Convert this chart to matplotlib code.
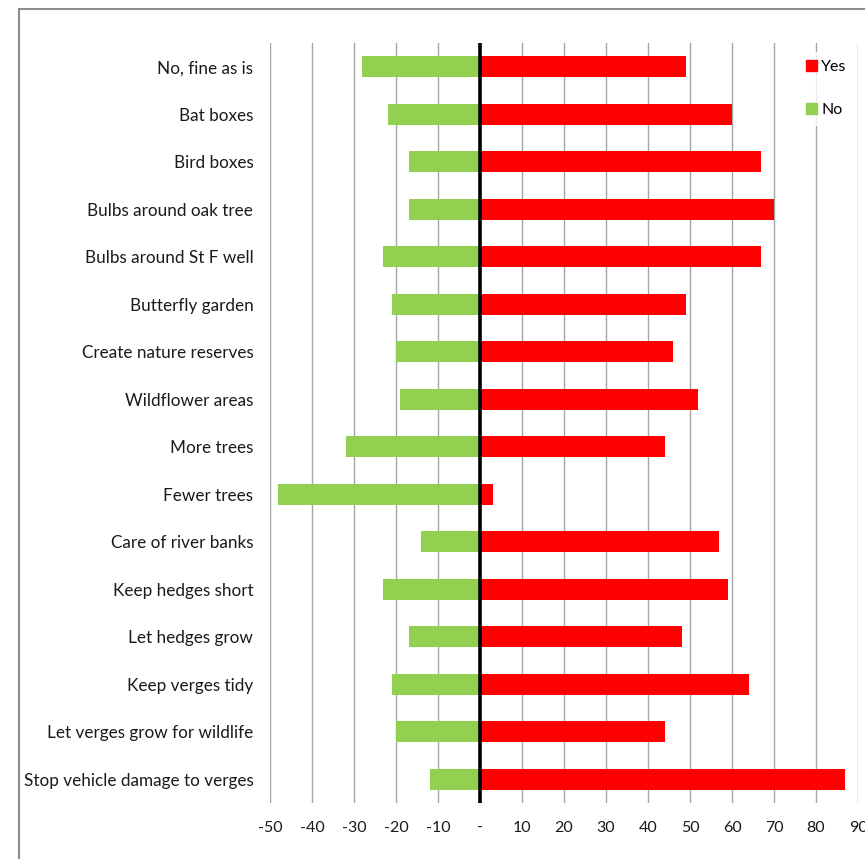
import matplotlib
matplotlib.use('Agg')
import matplotlib.pyplot as plt
from matplotlib.patches import Rectangle, Patch
import numpy as np

plt.rcParams['font.family'] = ['Lato', 'DejaVu Sans']

# survey answers, top row first
categories = [
    'No, fine as is',
    'Bat boxes',
    'Bird boxes',
    'Bulbs around oak tree',
    'Bulbs around St F well',
    'Butterfly garden',
    'Create nature reserves',
    'Wildflower areas',
    'More trees',
    'Fewer trees',
    'Care of river banks',
    'Keep hedges short',
    'Let hedges grow',
    'Keep verges tidy',
    'Let verges grow for wildlife',
    'Stop vehicle damage to verges',
]
yes_votes = [49, 60, 67, 70, 67, 49, 46, 52, 44, 3, 57, 59, 48, 64, 44, 87]
no_votes = [-28, -22, -17, -17, -23, -21, -20, -19, -32, -48, -14, -23, -17, -21, -20, -12]

x_ticks = [-50, -40, -30, -20, -10, 0, 10, 20, 30, 40, 50, 60, 70, 80, 90]
x_tick_labels = ['-50', '-40', '-30', '-20', '-10', '-', '10', '20', '30', '40',
                 '50', '60', '70', '80', '90']

W, H = 865, 859
fig = plt.figure(figsize=(W / 100, H / 100), dpi=100)

# chart-area border (runs off the right and bottom edge)
fig.patches.append(Rectangle((19 / W, -0.05), 1.0, 1 - 9 / H + 0.05,
                             transform=fig.transFigure, fill=False,
                             edgecolor='#8c8c8c', linewidth=1.5))

ax = fig.add_axes([270 / W, 1 - 803 / H, (858 - 270) / W, (803 - 43) / H])

y = np.arange(len(categories))
bar_h = 0.45
ax.barh(y, yes_votes, height=bar_h, color='#ff0000', zorder=2, label='Yes')
ax.barh(y, no_votes, height=bar_h, color='#92d050', zorder=2, label='No')
ax.axvline(0, color='black', linewidth=2.6, zorder=3)

ax.set_xlim(-50, 90)
ax.set_ylim(len(categories) - 0.5, -0.5)
ax.set_xticks(x_ticks)
ax.set_xticklabels(x_tick_labels)
ax.set_yticks(y)
ax.set_yticklabels(categories)
ax.xaxis.grid(True, color='#a6a6a6', linewidth=1.0, zorder=0)
ax.set_axisbelow(True)
for s in ax.spines.values():
    s.set_visible(False)
ax.tick_params(axis='y', length=0, pad=12, labelsize=12.3, labelcolor='#1a1a1a')
ax.tick_params(axis='x', length=0, pad=13, labelsize=11.5, labelcolor='#1a1a1a')

handles = [Patch(color='#ff0000', label='Yes'), Patch(color='#92d050', label='No')]
leg = fig.legend(handles=handles, loc='upper left',
                 bbox_to_anchor=(790 / W, 1 - 44 / H), frameon=True,
                 handlelength=0.7, handleheight=0.7, handletextpad=0.25,
                 labelspacing=1.8, fontsize=11.5, borderpad=0.5,
                 fancybox=False)
leg.get_frame().set_facecolor('white')
leg.get_frame().set_edgecolor('white')

fig.savefig('out.png', dpi=100, facecolor='white')
